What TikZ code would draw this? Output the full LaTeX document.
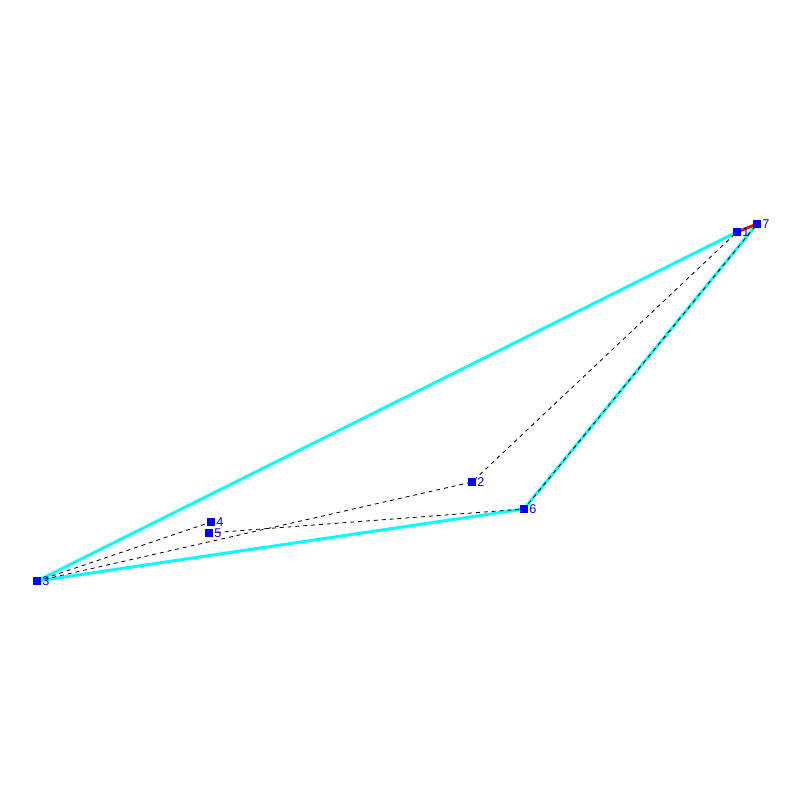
\documentclass[tikz,border=0pt]{standalone}
\usepackage{fontspec}
\setmainfont{Liberation Sans}
\definecolor{ptblue}{RGB}{0,0,255}
\definecolor{edgecyan}{RGB}{0,255,255}
\tikzset{
  pt/.style={draw=none,fill=ptblue,minimum size=5.6pt,inner sep=0pt,
    label={[text=ptblue,font=\fontsize{9}{9}\selectfont,inner sep=0.6pt,anchor=west]east:#1}},
  hull/.style={edgecyan,line width=2.1pt},
  link/.style={black,line width=0.6pt,dash pattern=on 2.8pt off 2.8pt},
  bond/.style={red,line width=2pt}
}
\begin{document}
\begin{tikzpicture}[x=0.025cm,y=-0.025cm]
\useasboundingbox (0,0) rectangle (800,800);
% Point positions
\coordinate (c1) at (737,232);
\coordinate (c2) at (472,482);
\coordinate (c3) at (37,581);
\coordinate (c4) at (211,522);
\coordinate (c5) at (209,533);
\coordinate (c6) at (524,509);
\coordinate (c7) at (757,224);
% Draw outer edges
\draw[hull] (c3) -- (c1);
\draw[hull] (c3) -- (c6) -- (c7);
% Draw dashed links
\draw[link] (c3) -- (c4);
\draw[link] (c3) -- (c2) -- (c1);
\draw[link] (c5) -- (c6) -- (c7);
% Short red edge
\draw[bond] (c1) -- (c7);
% Points
\foreach \i in {1,...,7}
  \node[pt=\i] (p\i) at (c\i) {};
\end{tikzpicture}
\end{document}
